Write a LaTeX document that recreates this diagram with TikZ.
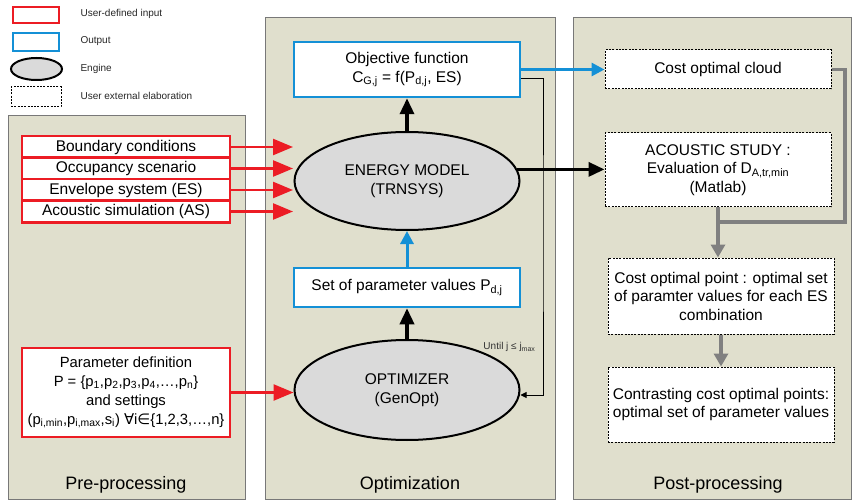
\documentclass[tikz,border=0pt]{standalone}
\usepackage{fontspec}
\setmainfont{Liberation Sans}
\newfontfamily\symfont{DejaVu Sans}
\usetikzlibrary{shapes,arrows.meta}
\definecolor{inred}{RGB}{236,28,36}
\definecolor{outblue}{RGB}{20,144,214}
\definecolor{panelbg}{RGB}{224,223,205}
\definecolor{panelline}{RGB}{120,120,120}
\definecolor{enginegray}{RGB}{218,218,218}
\definecolor{postgray}{RGB}{128,128,128}
\newcommand{\lowidx}[1]{\textsubscript{#1}}
\tikzstyle{panel} = [draw=panelline, fill=panelbg, line width=0.8pt]
\tikzstyle{inbox} = [draw=inred, fill=white, rectangle, line width=2.5pt, minimum width=208pt, minimum height=21.5pt, align=center, font=\fontsize{15.5}{19}\selectfont, node distance=21.5pt]
\tikzstyle{outbox} = [draw=outblue, fill=white, rectangle, line width=2.5pt, minimum width=226pt, align=center, font=\fontsize{15.5}{19}\selectfont]
\tikzstyle{engine} = [draw, fill=enginegray, ellipse, line width=2pt, minimum width=225pt, align=center, font=\fontsize{15.5}{19}\selectfont]
\tikzstyle{extbox} = [draw, fill=white, rectangle, dash pattern=on 2pt off 1.3pt, line width=1pt, minimum width=226pt, align=center, font=\fontsize{15.5}{18.5}\selectfont]
\tikzstyle{legtext} = [anchor=west, font=\fontsize{10}{12}\selectfont, text=black!85]
\tikzstyle{paneltext} = [font=\fontsize{18}{20}\selectfont]
\tikzstyle{line} = [draw, line width=3.5pt, -{Triangle[length=16pt,width=14pt]}]
\tikzstyle{redline} = [draw=inred, line width=2.5pt, -{Triangle[length=20pt,width=16pt]}]
\tikzstyle{blueline} = [draw=outblue, line width=3pt, -{Triangle[length=13pt,width=13pt]}]
\tikzstyle{grayline} = [draw=postgray, line width=3.5pt]
\tikzstyle{grayarrow} = [grayline, -{Triangle[length=13pt,width=14pt]}]
\tikzstyle{loopline} = [draw, line width=0.9pt, -{Triangle[length=6pt,width=6pt]}]
\begin{document}
\begin{tikzpicture}[x=1pt,y=-1pt]
    \useasboundingbox (0,0) rectangle (852,500);
    \draw [panel] (8,115) rectangle (245,499);
    \draw [panel] (265,17) rectangle (555,499);
    \draw [panel] (573,17) rectangle (851,499);
    \node [inbox, minimum width=46pt, minimum height=16pt] (leg0) at (36,15) {};
    \node [outbox, minimum width=46pt, minimum height=18pt] (leg1) at (36,42) {};
    \node [engine, minimum width=51pt, minimum height=22pt] (leg2) at (36.5,69) {};
    \node [extbox, minimum width=50pt, minimum height=20pt] (leg3) at (36,97) {};
    \node [legtext] (legt0) at (77,14) {User-defined input};
    \node [legtext] (legt1) at (77,41) {Output};
    \node [legtext] (legt2) at (77,69) {Engine};
    \node [legtext] (legt3) at (77,96) {User external elaboration};
    \node [inbox] (in0) at (126,147) {Boundary conditions};
    \node [inbox, below of=in0] (in1) {Occupancy scenario};
    \node [inbox, below of=in1] (in2) {Envelope system (ES)};
    \node [inbox, below of=in2] (in3) {Acoustic simulation (AS)};
    \node [inbox, minimum height=89pt, inner xsep=1pt, font=\fontsize{14.8}{19}\selectfont] (in4) at (126,392.5) {Parameter definition\\P = \{p\lowidx{1},p\lowidx{2},p\lowidx{3},p\lowidx{4},…,p\lowidx{n}\}\\and settings\\(p\lowidx{i,min},p\lowidx{i,max},s\lowidx{i}) {\symfont ∀}i{\symfont ∈}\{1,2,3,…,n\}};
    \node [outbox, minimum height=55pt] (opt0) at (407,69.5) {Objective function\\C\lowidx{G,j} = f(P\lowidx{d,j}, ES)};
    \node [engine, minimum height=98pt] (opt1) at (407,181) {ENERGY MODEL\\(TRNSYS)};
    \node [outbox, minimum height=39pt] (opt2) at (407,287.5) {Set of parameter values P\lowidx{d,j}};
    \node [engine, minimum height=100pt] (opt3) at (407,390) {OPTIMIZER\\(GenOpt)};
    \node [extbox, minimum height=39pt] (post0) at (718,69.5) {Cost optimal cloud};
    \node [extbox, minimum height=74pt] (post1) at (718,170) {ACOUSTIC STUDY :\\Evaluation of D\lowidx{A,tr,min}\\(Matlab)};
    \node [extbox, minimum height=76pt] (post2) at (721,296) {Cost optimal point : optimal set\\of paramter values for each ES\\combination};
    \node [extbox, minimum height=75pt] (post3) at (721,404.5) {Contrasting cost optimal points:\\optimal set of parameter values};
    \node [anchor=east, font=\fontsize{10}{12}\selectfont, text=black!80] (until) at (539,347) {Until j ≤ j\lowidx{max}};
    \node [paneltext] (lab0) at (126,485) {Pre-processing};
    \node [paneltext] (lab1) at (410,485) {Optimization};
    \node [paneltext] (lab2) at (718,485) {Post-processing};
    \coordinate (tip) at (293,0);
    \coordinate (loopx) at (543,230);
    \coordinate (grayturn) at (845,222);
    \path [redline] (in0.east) -- (in0.east -| tip);
    \path [redline] (in1.east) -- (in1.east -| tip);
    \path [redline] (in2.east) -- (in2.east -| tip);
    \path [redline] (in3.east) -- (in3.east -| tip);
    \path [redline] (in4.east) -- (in4.east -| opt3.west);
    \path [line] (opt1.north) -- (opt0.south);
    \path [line] (opt3.north) -- (opt2.south);
    \path [blueline] (opt2.north) -- (opt1.south);
    \path [blueline] (opt0.east) -- (post0.west);
    \path [line] (opt1.6) -- (opt1.6 -| post1.west);
    \path [loopline] ([yshift=-9pt]opt0.east) -| (loopx) |- ([yshift=-5pt]opt3.east);
    \path [grayline] (post0.east) -| (grayturn) -- (grayturn -| post1.south);
    \path [grayarrow] (post1.south) -- (post1.south |- post2.north);
    \path [grayarrow] (post2.south) -- (post3.north);
\end{tikzpicture}
\end{document}
